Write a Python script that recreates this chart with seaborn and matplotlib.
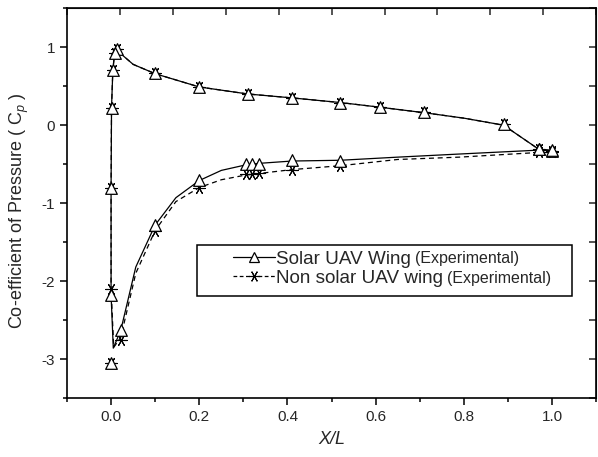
import numpy as np
import matplotlib
matplotlib.use("Agg")
import matplotlib.pyplot as plt
from matplotlib.lines import Line2D
from matplotlib.patches import Rectangle
from matplotlib.ticker import MultipleLocator
import seaborn as sns

# measured points (markers)
solar_x = [1.0, 0.97, 0.89, 0.71, 0.61, 0.52, 0.41, 0.31, 0.2, 0.1, 0.013, 0.008, 0.004, 0.001,
           0.0, 0.0, 0.0, 0.022, 0.1, 0.2, 0.305, 0.32, 0.335, 0.41, 0.52, 0.97, 1.0]
solar_y = [-0.33, -0.31, 0.02, 0.17, 0.23, 0.29, 0.35, 0.40, 0.49, 0.67, 0.98, 0.92, 0.71, 0.22,
           -0.80, -2.18, -3.05, -2.63, -1.28, -0.70, -0.50, -0.50, -0.50, -0.45, -0.46, -0.31, -0.32]
nonsolar_x = [1.0, 0.97, 0.89, 0.71, 0.61, 0.52, 0.41, 0.31, 0.2, 0.1, 0.013, 0.008, 0.004, 0.001,
              0.0, 0.0, 0.0, 0.022, 0.1, 0.2, 0.305, 0.32, 0.335, 0.41, 0.52, 0.97, 1.0]
nonsolar_y = [-0.33, -0.31, 0.02, 0.17, 0.23, 0.29, 0.35, 0.40, 0.49, 0.67, 0.98, 0.92, 0.71, 0.22,
              -0.80, -2.10, -3.05, -2.75, -1.36, -0.80, -0.63, -0.63, -0.61, -0.57, -0.53, -0.35, -0.35]

# fitted curves
solar_cx = [1.0, 0.97, 0.89, 0.8, 0.71, 0.61, 0.52, 0.41, 0.31, 0.2, 0.1, 0.05, 0.013, 0.008,
            0.004, 0.001, 0.0, 0.0, 0.005, 0.022, 0.056, 0.1, 0.147, 0.2, 0.25, 0.305, 0.335,
            0.41, 0.52, 0.65, 0.79, 0.97, 1.0]
solar_cy = [-0.33, -0.31, 0.0, 0.09, 0.16, 0.23, 0.29, 0.35, 0.40, 0.49, 0.66, 0.78, 0.96, 0.92,
            0.71, 0.22, -0.80, -2.18, -2.86, -2.63, -1.82, -1.28, -0.93, -0.71, -0.58, -0.51, -0.49,
            -0.46, -0.45, -0.41, -0.37, -0.32, -0.32]
nonsolar_cx = [1.0, 0.97, 0.89, 0.8, 0.71, 0.61, 0.52, 0.41, 0.31, 0.2, 0.1, 0.05, 0.013, 0.008,
               0.004, 0.001, 0.0, 0.0, 0.006, 0.022, 0.056, 0.1, 0.147, 0.2, 0.25, 0.305, 0.335,
               0.41, 0.52, 0.65, 0.79, 0.97, 1.0]
nonsolar_cy = [-0.33, -0.31, 0.0, 0.09, 0.16, 0.23, 0.29, 0.35, 0.40, 0.49, 0.66, 0.78, 0.96, 0.92,
               0.71, 0.22, -0.80, -2.10, -2.85, -2.72, -1.90, -1.35, -0.98, -0.80, -0.70, -0.64, -0.62,
               -0.57, -0.52, -0.44, -0.41, -0.35, -0.35]

labels = ["Solar UAV Wing", "Non solar UAV wing"]
note = "(Experimental)"

sns.set_style("ticks")
plt.rcParams['font.family'] = ['Liberation Sans', 'DejaVu Sans']
plt.rcParams['mathtext.fontset'] = 'custom'
plt.rcParams['mathtext.rm'] = 'Liberation Sans'
plt.rcParams['mathtext.it'] = 'Liberation Sans:italic'

fig = plt.figure(figsize=(5.98, 4.57), dpi=100)
ax = fig.add_axes([0.112, 0.129, 0.885, 0.853])

star = (6, 2, 90)
lw = 0.9

sns.lineplot(x=nonsolar_cx, y=nonsolar_cy, sort=False, estimator=None, ax=ax,
             color='black', lw=lw, linestyle=(0, (4, 3)))
sns.lineplot(x=solar_cx, y=solar_cy, sort=False, estimator=None, ax=ax,
             color='black', lw=lw)
sns.scatterplot(x=nonsolar_x, y=nonsolar_y, ax=ax, marker=star, s=70,
                color='black', edgecolor='black', linewidth=0.8, zorder=3)
sns.scatterplot(x=solar_x, y=solar_y, ax=ax, marker='^', s=70,
                facecolor='white', edgecolor='black', linewidth=0.9, zorder=4)

ax.set_xlim(-0.1, 1.1)
ax.set_ylim(-3.5, 1.5)
ax.xaxis.set_minor_locator(MultipleLocator(0.1))
ax.yaxis.set_minor_locator(MultipleLocator(0.5))
ax.set_xticks(np.arange(0, 1.01, 0.2))
ax.set_xticklabels(["0.0", "0.2", "0.4", "0.6", "0.8", "1.0"])
ax.set_yticks([-3, -2, -1, 0, 1])
ax.set_yticklabels(["-3", "-2", "-1", "0", "1"])
ax.tick_params(which='major', length=5, width=1.1, labelsize=11, color='black', direction='out')
ax.tick_params(which='minor', length=3, width=1.1, color='black', direction='out')
for s in ax.spines.values():
    s.set_linewidth(1.2)
    s.set_color('black')

# Origin style frame ticks: ten inward divisions on top and right
top = ax.secondary_xaxis('top')
top.set_xticks(np.linspace(-0.1, 1.1, 11))
top.tick_params(direction='in', length=5, width=1.1, labeltop=False)
right = ax.secondary_yaxis('right')
right.set_yticks(np.linspace(-3.5, 1.5, 11))
right.tick_params(direction='in', length=5, width=1.1, labelright=False)

ax.set_xlabel("X/L", fontsize=13, style='italic', labelpad=5)
ax.set_ylabel(r"Co-efficient of Pressure ( C$_{\mathit{p}}$ )", fontsize=13)
ax.yaxis.set_label_coords(-0.068, 0.48)

handles = [
    Line2D([], [], color='black', lw=lw, marker='^', mfc='white', mec='black', ms=7.5, mew=0.9),
    Line2D([], [], color='black', lw=lw, linestyle=(0, (3, 2)), marker=star, mec='black', ms=8, mew=0.8),
]
leg = ax.legend(handles, labels, loc='upper left', bbox_to_anchor=(0.314, 0.379),
                frameon=False, fontsize=13.6, handlelength=2.2, handletextpad=0.05,
                borderpad=0, borderaxespad=0, labelspacing=0.1)
ax.add_patch(Rectangle((0.246, 0.262), 0.709, 0.130, transform=ax.transAxes,
                       fill=False, edgecolor='black', lw=1.1, zorder=5))
for t in leg.get_texts():
    ax.annotate(note, xy=(1, 0), xycoords=t, xytext=(3, 0.8), textcoords='offset points',
                va='bottom', ha='left', fontsize=11.5, zorder=6)

fig.canvas.draw()
fig.savefig("out.png", dpi=100)
